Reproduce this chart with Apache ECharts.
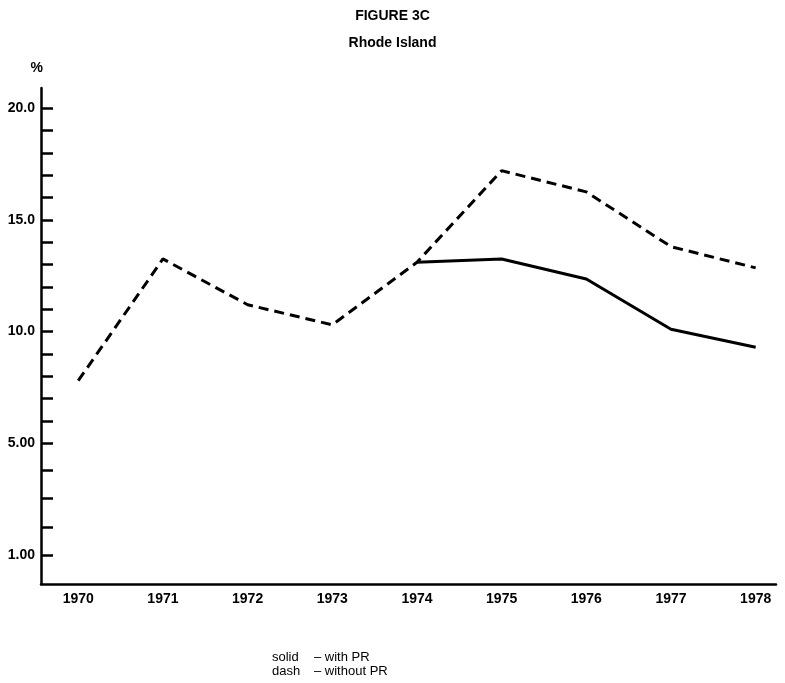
<!DOCTYPE html>
<html>
<head>
<meta charset="utf-8">
<title>Figure 3C - Rhode Island</title>
<script src="https://cdn.jsdelivr.net/npm/echarts@6/dist/echarts.min.js"></script>
<style>
  html, body { margin: 0; padding: 0; background: #fff; }
  #chart { width: 785px; height: 683px; }
</style>
</head>
<body>
<div id="chart"></div>
<script>
// years on the x axis
var years = [1970, 1971, 1972, 1973, 1974, 1975, 1976, 1977, 1978];
// dash - without PR
var withoutPR = [7.8, 13.25, 11.2, 10.3, 13.1, 17.2, 16.25, 13.8, 12.85];
// solid - with PR (starts in 1974)
var withPR = [null, null, null, null, 13.1, 13.25, 12.35, 10.1, 9.3];

// y axis ticks (the printed scale is squeezed below 5, so 1.00 sits near zero)
var yTickValues = [0, 1.25, 2.55, 3.8, 5, 6, 7, 8, 9, 10, 11, 12, 13, 14, 15, 16, 17, 18, 19, 20];
var yLabelValues = [0, 5, 10, 15, 20];
var yLabelText = ['1.00', '5.00', '10.0', '15.0', '20.0'];

function pairs(vals) {
    var out = [];
    for (var i = 0; i < years.length; i++) {
        if (vals[i] != null) out.push([years[i], vals[i]]);
    }
    return out;
}

var myChart = echarts.init(document.getElementById('chart'));
var font = 'Liberation Sans, Arial, sans-serif';
var plainText = { fontFamily: font, fontSize: 13, fill: '#000' };
var option = {
    backgroundColor: '#fff',
    animation: false,
    title: {
        text: 'FIGURE 3C',
        subtext: 'Rhode Island',
        left: 'center',
        top: 4,
        itemGap: 13,
        textStyle: { fontFamily: font, fontSize: 14, fontWeight: 'bold', color: '#000' },
        subtextStyle: { fontFamily: font, fontSize: 14, fontWeight: 'bold', color: '#000' }
    },
    grid: { left: 41, right: 9, top: 88, bottom: 99 },
    xAxis: {
        type: 'value',
        min: 1969.56,
        max: 1978.24,
        axisLine: { onZero: false, lineStyle: { color: '#000', width: 2.5 } },
        axisTick: { show: false },
        splitLine: { show: false },
        axisLabel: {
            customValues: years,
            margin: 8,
            color: '#000',
            fontFamily: font,
            fontSize: 14,
            fontWeight: 'bold',
            formatter: function (v) { return String(v); }
        }
    },
    yAxis: {
        type: 'value',
        min: -1.3,
        max: 20.9,
        name: '%',
        nameLocation: 'end',
        nameGap: 13,
        nameTextStyle: { fontFamily: font, fontSize: 14, fontWeight: 'bold', color: '#000', align: 'right', padding: [0, -2, 0, 0] },
        axisLine: { show: true, onZero: false, lineStyle: { color: '#000', width: 2.5 } },
        axisTick: {
            show: true,
            inside: true,
            length: 12,
            customValues: yTickValues,
            lineStyle: { color: '#000', width: 2.5 }
        },
        splitLine: { show: false },
        axisLabel: {
            customValues: yLabelValues,
            margin: 6,
            color: '#000',
            fontFamily: font,
            fontSize: 14,
            fontWeight: 'bold',
            formatter: function (v) {
                var i = yLabelValues.indexOf(v);
                return i >= 0 ? yLabelText[i] : '';
            }
        }
    },
    series: [
        {
            name: 'without PR',
            type: 'line',
            data: pairs(withoutPR),
            symbol: 'none',
            lineStyle: { color: '#000', width: 3, type: [10, 6] }
        },
        {
            name: 'with PR',
            type: 'line',
            data: pairs(withPR),
            symbol: 'none',
            lineStyle: { color: '#000', width: 3, type: 'solid' }
        }
    ],
    graphic: [
        { type: 'text', left: 272, top: 651, style: Object.assign({ text: 'solid' }, plainText) },
        { type: 'text', left: 314, top: 651, style: Object.assign({ text: '– with PR' }, plainText) },
        { type: 'text', left: 272, top: 665, style: Object.assign({ text: 'dash' }, plainText) },
        { type: 'text', left: 314, top: 665, style: Object.assign({ text: '– without PR' }, plainText) }
    ]
};
myChart.setOption(option);
</script>
</body>
</html>
